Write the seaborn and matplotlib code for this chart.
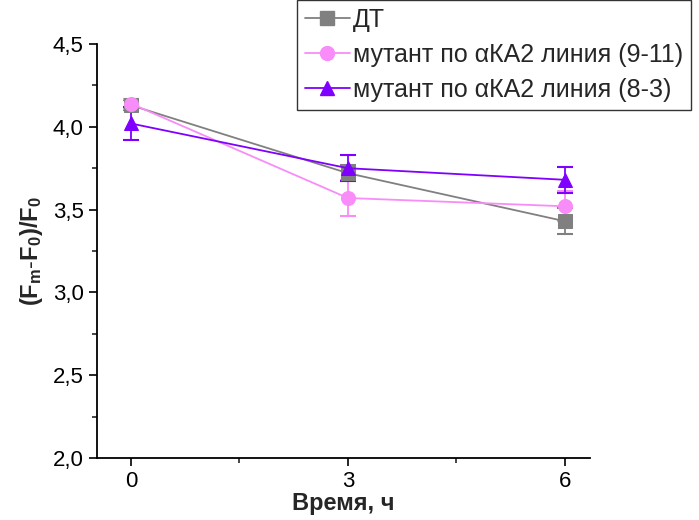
import matplotlib
matplotlib.use("Agg")
import matplotlib.pyplot as plt
import seaborn as sns
import pandas as pd
import numpy as np
from matplotlib.ticker import MultipleLocator, FuncFormatter
from matplotlib.lines import Line2D

# ---- data ----
hours = [0, 3, 6]
series_names = ["ДТ", "мутант по αКА2 линия (9-11)", "мутант по αКА2 линия (8-3)"]
dt_vals = [4.13, 3.72, 3.43]
dt_err = [0.03, 0.05, 0.08]
m911_vals = [4.14, 3.57, 3.52]
m911_err = [0.03, 0.11, 0.09]
m83_vals = [4.02, 3.75, 3.68]
m83_err = [0.10, 0.08, 0.08]
x_ticks = [0, 3, 6]
y_ticks = [2.0, 2.5, 3.0, 3.5, 4.0, 4.5]

colors = ["#808080", "#F88CF8", "#8000FF"]
markers = ["s", "o", "^"]

rows = []
for name, vals, errs in zip(series_names, [dt_vals, m911_vals, m83_vals], [dt_err, m911_err, m83_err]):
    for h, v, e in zip(hours, vals, errs):
        rows.append({"Время": h, "val": v, "err": e, "series": name})
df = pd.DataFrame(rows)

sns.set_theme(style="ticks")
plt.rcParams["font.family"] = ["Liberation Sans", "DejaVu Sans"]
plt.rcParams["mathtext.fontset"] = "custom"
plt.rcParams["mathtext.rm"] = "Liberation Sans"
plt.rcParams["mathtext.bf"] = "Liberation Sans:bold"

fig = plt.figure(figsize=(6.99, 5.20), dpi=100)
ax = fig.add_axes([97/699, 1-458/520, (590-97)/699, (458-44)/520])

for name, c, m in zip(series_names, colors, markers):
    sub = df[df["series"] == name]
    ax.errorbar(sub["Время"], sub["val"], yerr=sub["err"], fmt="none", ecolor=c,
                elinewidth=1.3, capsize=6, capthick=1.5, zorder=2)
    sns.lineplot(data=sub, x="Время", y="val", color=c, marker=m, markersize=10,
                 markeredgecolor=c, linewidth=1.3, ax=ax, legend=False, zorder=3)

ax.set_xlim(-0.47, 6.35)
ax.set_ylim(2.0, 4.5)
ax.set_xticks(x_ticks)
ax.set_yticks(y_ticks)
ax.xaxis.set_minor_locator(MultipleLocator(1.5))
ax.yaxis.set_minor_locator(MultipleLocator(0.25))
ax.yaxis.set_major_formatter(FuncFormatter(lambda v, p: f"{v:.1f}".replace(".", ",")))
ax.tick_params(axis="both", which="major", direction="out", length=6, width=1.2,
               labelsize=16, colors="black")
ax.tick_params(axis="both", which="minor", direction="out", length=3.5, width=1.2)
for s in ["top", "right"]:
    ax.spines[s].set_visible(False)
for s in ["left", "bottom"]:
    ax.spines[s].set_linewidth(1.3)
    ax.spines[s].set_color("black")

ax.set_xlabel("Время, ч", fontsize=17, fontweight="bold", labelpad=0)
ax.set_ylabel(r"$\mathbf{(F_m\text{-}F_0)/F_0}$", fontsize=17, labelpad=6)

handles = [Line2D([0], [0], color=c, marker=m, markersize=10, linewidth=1.3)
           for c, m in zip(colors, markers)]
leg = fig.legend(handles, series_names, loc="upper left", bbox_to_anchor=(297/699, 1.0),
                 fontsize=18, frameon=True, fancybox=False, edgecolor="black",
                 handlelength=1.8, handletextpad=0.15, borderpad=0.3, labelspacing=0.45,
                 borderaxespad=0.0)
leg.get_frame().set_linewidth(1.0)

fig.savefig("out.png", dpi=100)
